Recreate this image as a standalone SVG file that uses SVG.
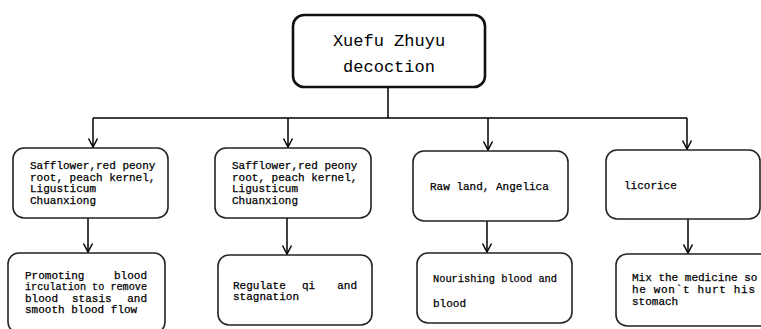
<svg xmlns="http://www.w3.org/2000/svg" width="761" height="329" viewBox="0 0 761 329">
<defs>
<marker id="arr" viewBox="0 0 12 12" refX="11" refY="6" markerWidth="12" markerHeight="12" markerUnits="userSpaceOnUse" orient="auto">
<polyline points="2.5,1.5 11,6 2.5,10.5" fill="none" stroke="#000" stroke-width="1.5"/>
</marker>
<style>
.box{fill:#fff;stroke:#222;stroke-width:1.6}
.top{fill:#fff;stroke:#111;stroke-width:2.6}
.t{font-family:"Liberation Mono","DejaVu Sans Mono",monospace;font-size:11px;fill:#000;stroke:#000;stroke-width:0.25}
.tt{font-family:"Liberation Mono","DejaVu Sans Mono",monospace;font-size:17px;fill:#000;text-anchor:middle}
.c{fill:none;stroke:#000;stroke-width:1.5}
</style>
</defs>
<rect width="761" height="329" fill="#fff"/>
<g id="connectors">
<path class="c" d="M388,87 V118 M93,118 H687"/>
<path class="c" d="M93,118 V147" marker-end="url(#arr)"/>
<path class="c" d="M288,118 V147" marker-end="url(#arr)"/>
<path class="c" d="M488,118 V150" marker-end="url(#arr)"/>
<path class="c" d="M687,118 V149" marker-end="url(#arr)"/>
<path class="c" d="M88,218 V252" marker-end="url(#arr)"/>
<path class="c" d="M287,218 V254" marker-end="url(#arr)"/>
<path class="c" d="M487,221 V252" marker-end="url(#arr)"/>
<path class="c" d="M688,219 V253" marker-end="url(#arr)"/>
</g>
<g id="root">
<rect class="top" x="293" y="15" width="192" height="72" rx="11"/>
<text class="tt" x="389" y="46">Xuefu Zhuyu</text>
<text class="tt" x="389" y="72">decoction</text>
</g>
<g id="n1">
<rect class="box" x="13" y="148" width="155" height="70" rx="11"/>
<text class="t" x="30" y="169">Safflower,red peony</text>
<text class="t" x="30" y="181">root, peach kernel,</text>
<text class="t" x="30" y="192">Ligusticum</text>
<text class="t" x="30" y="204">Chuanxiong</text>
</g>
<g id="n2">
<rect class="box" x="215" y="148" width="156" height="70" rx="11"/>
<text class="t" x="232" y="169">Safflower,red peony</text>
<text class="t" x="232" y="181">root, peach kernel,</text>
<text class="t" x="232" y="192">Ligusticum</text>
<text class="t" x="232" y="204">Chuanxiong</text>
</g>
<g id="n3">
<rect class="box" x="413" y="151" width="155" height="70" rx="11"/>
<text class="t" x="430" y="190">Raw land, Angelica</text>
</g>
<g id="n4">
<rect class="box" x="606" y="150" width="154" height="69" rx="11"/>
<text class="t" x="624" y="189">licorice</text>
</g>
<g id="n5">
<rect class="box" x="8" y="253" width="157" height="80" rx="11"/>
<text class="t" x="25" y="279">Promoting</text>
<text class="t" x="147" y="279" text-anchor="end">blood</text>
<text class="t" x="25" y="290" textLength="122" lengthAdjust="spacingAndGlyphs">irculation to remove</text>
<text class="t" x="25" y="302">blood</text>
<text class="t" x="72" y="302">stasis</text>
<text class="t" x="147" y="302" text-anchor="end">and</text>
<text class="t" x="25" y="313">smooth blood flow</text>
</g>
<g id="n6">
<rect class="box" x="218" y="255" width="154" height="70" rx="11"/>
<text class="t" x="233" y="289">Regulate</text>
<text class="t" x="302" y="289">qi</text>
<text class="t" x="357" y="289" text-anchor="end">and</text>
<text class="t" x="233" y="300">stagnation</text>
</g>
<g id="n7">
<rect class="box" x="417" y="253" width="155" height="70" rx="11"/>
<text class="t" x="433" y="282" textLength="124" lengthAdjust="spacingAndGlyphs">Nourishing blood and</text>
<text class="t" x="433" y="307">blood</text>
</g>
<g id="n8">
<rect class="box" x="616" y="254" width="160" height="72" rx="11"/>
<text class="t" x="632" y="281">Mix the medicine so</text>
<text class="t" x="632" y="293" textLength="123">he won`t hurt his</text>
<text class="t" x="632" y="305">stomach</text>
</g>
</svg>
